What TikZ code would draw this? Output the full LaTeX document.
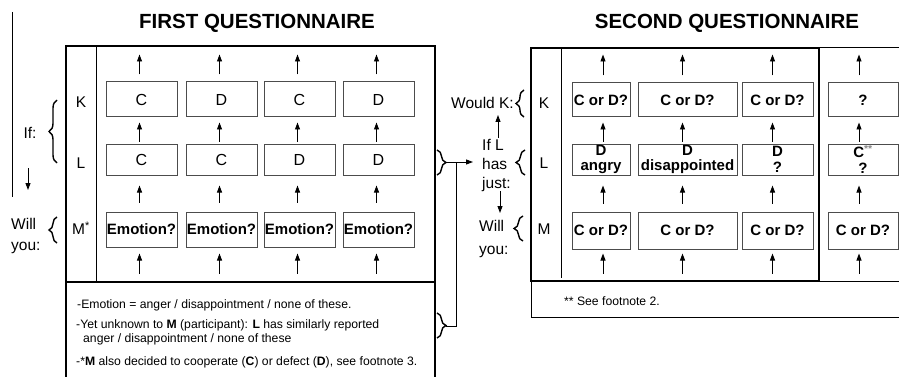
\documentclass[tikz,border=0pt]{standalone}
\usepackage{fontspec}
\setmainfont{Liberation Sans}
\usetikzlibrary{arrows.meta,decorations.pathreplacing}
\begin{document}
\begin{tikzpicture}[x=1pt,y=-1pt,
  cellbox/.style={draw=black!70,line width=1pt,inner sep=0pt,align=center,
    font=\fontsize{16}{17}\selectfont},
  boldcell/.style={cellbox,font=\fontsize{15}{17}\selectfont\bfseries},
  arr/.style={line width=0.9pt,-{Triangle[length=7pt,width=5pt]}},
  lbl/.style={inner sep=0pt,font=\fontsize{15.5}{18}\selectfont},
  note/.style={inner sep=0pt,anchor=west,font=\fontsize{12.2}{14}\selectfont},
  titlefont/.style={inner sep=0pt,font=\fontsize{20.5}{24}\selectfont\bfseries},
  lbrace/.style={decorate,decoration={brace,amplitude=#1},line width=1.4pt},
  thickline/.style={line width=2pt}]
\useasboundingbox (0,0) rectangle (899,377);

% titles
\node[titlefont] (t1) at (257,23) {FIRST QUESTIONNAIRE};
\node[titlefont] (t2) at (727,23) {SECOND QUESTIONNAIRE};

% ---------------- first panel ----------------
\draw[line width=1pt] (12,12) -- (12,197);
\draw[thickline] (66,46) rectangle (435,282);
\draw[line width=1pt] (96,46) -- (96,282);
\draw[line width=1.6pt] (66,282) -- (66,377);
\draw[line width=1.4pt] (435,282) -- (435,377);

\node[lbl] (rk) at (81,102) {K};
\node[lbl] (rl) at (81,163) {L};
\node[lbl] (rm) at (81,228) {M\textsuperscript{*}};

\foreach \n/\x/\tk/\tl in {1/141.5/C/C,2/221.5/D/C,3/299.5/C/D,4/378.5/D/D}{
  \node[cellbox,minimum width=71,minimum height=35] (k\n) at (\x,99.5) {\tk};
  \node[cellbox,minimum width=71,minimum height=31] (l\n) at (\x,159.5) {\tl};
  \node[boldcell,minimum width=71,minimum height=35] (m\n) at (\x,229.5) {Emotion?};
  \coordinate (kt\n) at ([shift={(-2,-27)}]k\n.north);
  \coordinate (mb\n) at ([shift={(-2,26)}]m\n.south);
  \draw[arr,shorten <=7pt] ([xshift=-2]k\n.north) -- (kt\n);
  \draw[arr,shorten <=2pt,shorten >=5pt] ([xshift=-2]l\n.north) -- ([xshift=-2]k\n.south);
  \draw[arr,shorten <=9pt,shorten >=10pt] ([xshift=-2]m\n.north) -- ([xshift=-2]l\n.south);
  \draw[arr,shorten >=6pt] (mb\n) -- ([xshift=-2]m\n.south);
}

% left side labels
\node[lbl] (iflbl) at (30,133) {If:};
\draw[lbrace=8pt] (57,163) -- (57,100);
\coordinate (da1) at (28,168);
\coordinate (da2) at (28,190);
\draw[arr] (da1) -- (da2);
\node[lbl,anchor=west,align=left,font=\fontsize{15.5}{21}\selectfont] (willyou1) at (11,236) {Will\\you:};
\draw[lbrace=8pt] (57,243) -- (57,217);

% footnotes first panel
\node[note] (n1) at (77,305) {-Emotion = anger / disappointment / none of these.};
\node[note] (n2) at (76,325) {-Yet unknown to \textbf{M} (participant): \textbf{L} has similarly reported};
\node[note] (n3) at (83,339) {anger / disappointment / none of these};
\node[note] (n4) at (76,362) {-*\textbf{M} also decided to cooperate (\textbf{C}) or defect (\textbf{D}), see footnote 3.};

% braces and connector between panels
\draw[lbrace=9pt] (437,150) -- (437,175);
\draw[lbrace=9pt] (437,313) -- (437,338);
\coordinate (bt1) at (446,162);
\coordinate (bt2) at (446,326);
\coordinate (jn) at (456,162);
\coordinate (ae) at (473,162);
\draw[line width=1pt] (bt2) -| (jn);
\draw[arr] (bt1) -- (ae);

% ---------------- second panel ----------------
\draw[thickline] (531,48) rectangle (819,281);
\draw[line width=1pt] (561,48) -- (561,278);
\draw[line width=1pt] (819,48) -- (899,48);
\draw[line width=1pt] (819,281) -- (899,281);
\draw[line width=1pt] (531,281) -- (531,317) -- (899,317);

\node[lbl] (sk) at (544,103) {K};
\node[lbl] (sl) at (544,163) {L};
\node[lbl] (sm) at (544,229) {M};

\foreach \n/\x/\w/\d/\tk/\tl in {1/601/58/2/{C or D?}/{D\\angry},
    2/687.5/99/-5/{C or D?}/{D\\disappointed},
    3/777.5/71/-5/{C or D?}/{D\\?},
    4/863/70/-4/{?}/{C\textsuperscript{\textcolor{black!45}{**}}\\?}}{
  \node[boldcell,minimum width=\w,minimum height=34] (sk\n) at (\x,100) {\tk};
  \node[boldcell,minimum width=\w,minimum height=31,font=\fontsize{15}{15.5}\selectfont\bfseries] (sl\n) at (\x,159.5) {\tl};
  \node[boldcell,minimum width=\w,minimum height=37] (sm\n) at (\x,230.5) {C or D?};
  \coordinate (skt\n) at ([shift={(\d,-28)}]sk\n.north);
  \coordinate (smb\n) at ([shift={(\d,24)}]sm\n.south);
  \draw[arr,shorten <=7pt] ([xshift=\d]sk\n.north) -- (skt\n);
  \draw[arr,shorten <=2pt,shorten >=5pt] ([xshift=\d]sl\n.north) -- ([xshift=\d]sk\n.south);
  \draw[arr,shorten <=8pt,shorten >=10pt] ([xshift=\d]sm\n.north) -- ([xshift=\d]sl\n.south);
  \draw[arr,shorten >=4pt] (smb\n) -- ([xshift=\d]sm\n.south);
}

% side labels second panel
\node[lbl,anchor=east] (wk) at (514,103) {Would K:};
\draw[lbrace=8pt] (524,117) -- (524,90);
\coordinate (ua1) at (498,138);
\coordinate (ua2) at (498,115);
\draw[arr] (ua1) -- (ua2);
\node[lbl,anchor=west,align=left,font=\fontsize{15.5}{19}\selectfont] (ifl) at (482,165) {If L\\has\\just:};
\draw[lbrace=9pt] (525,175) -- (525,150);
\coordinate (dd1) at (500,191);
\coordinate (dd2) at (500,213);
\draw[arr] (dd1) -- (dd2);
\node[lbl,anchor=west,align=left,font=\fontsize{15.5}{23}\selectfont] (willyou2) at (479,238.5) {Will\\you:};
\draw[lbrace=9pt] (523,241) -- (523,216);

\node[note] (sn) at (564,301) {** See footnote 2.};
\end{tikzpicture}
\end{document}
